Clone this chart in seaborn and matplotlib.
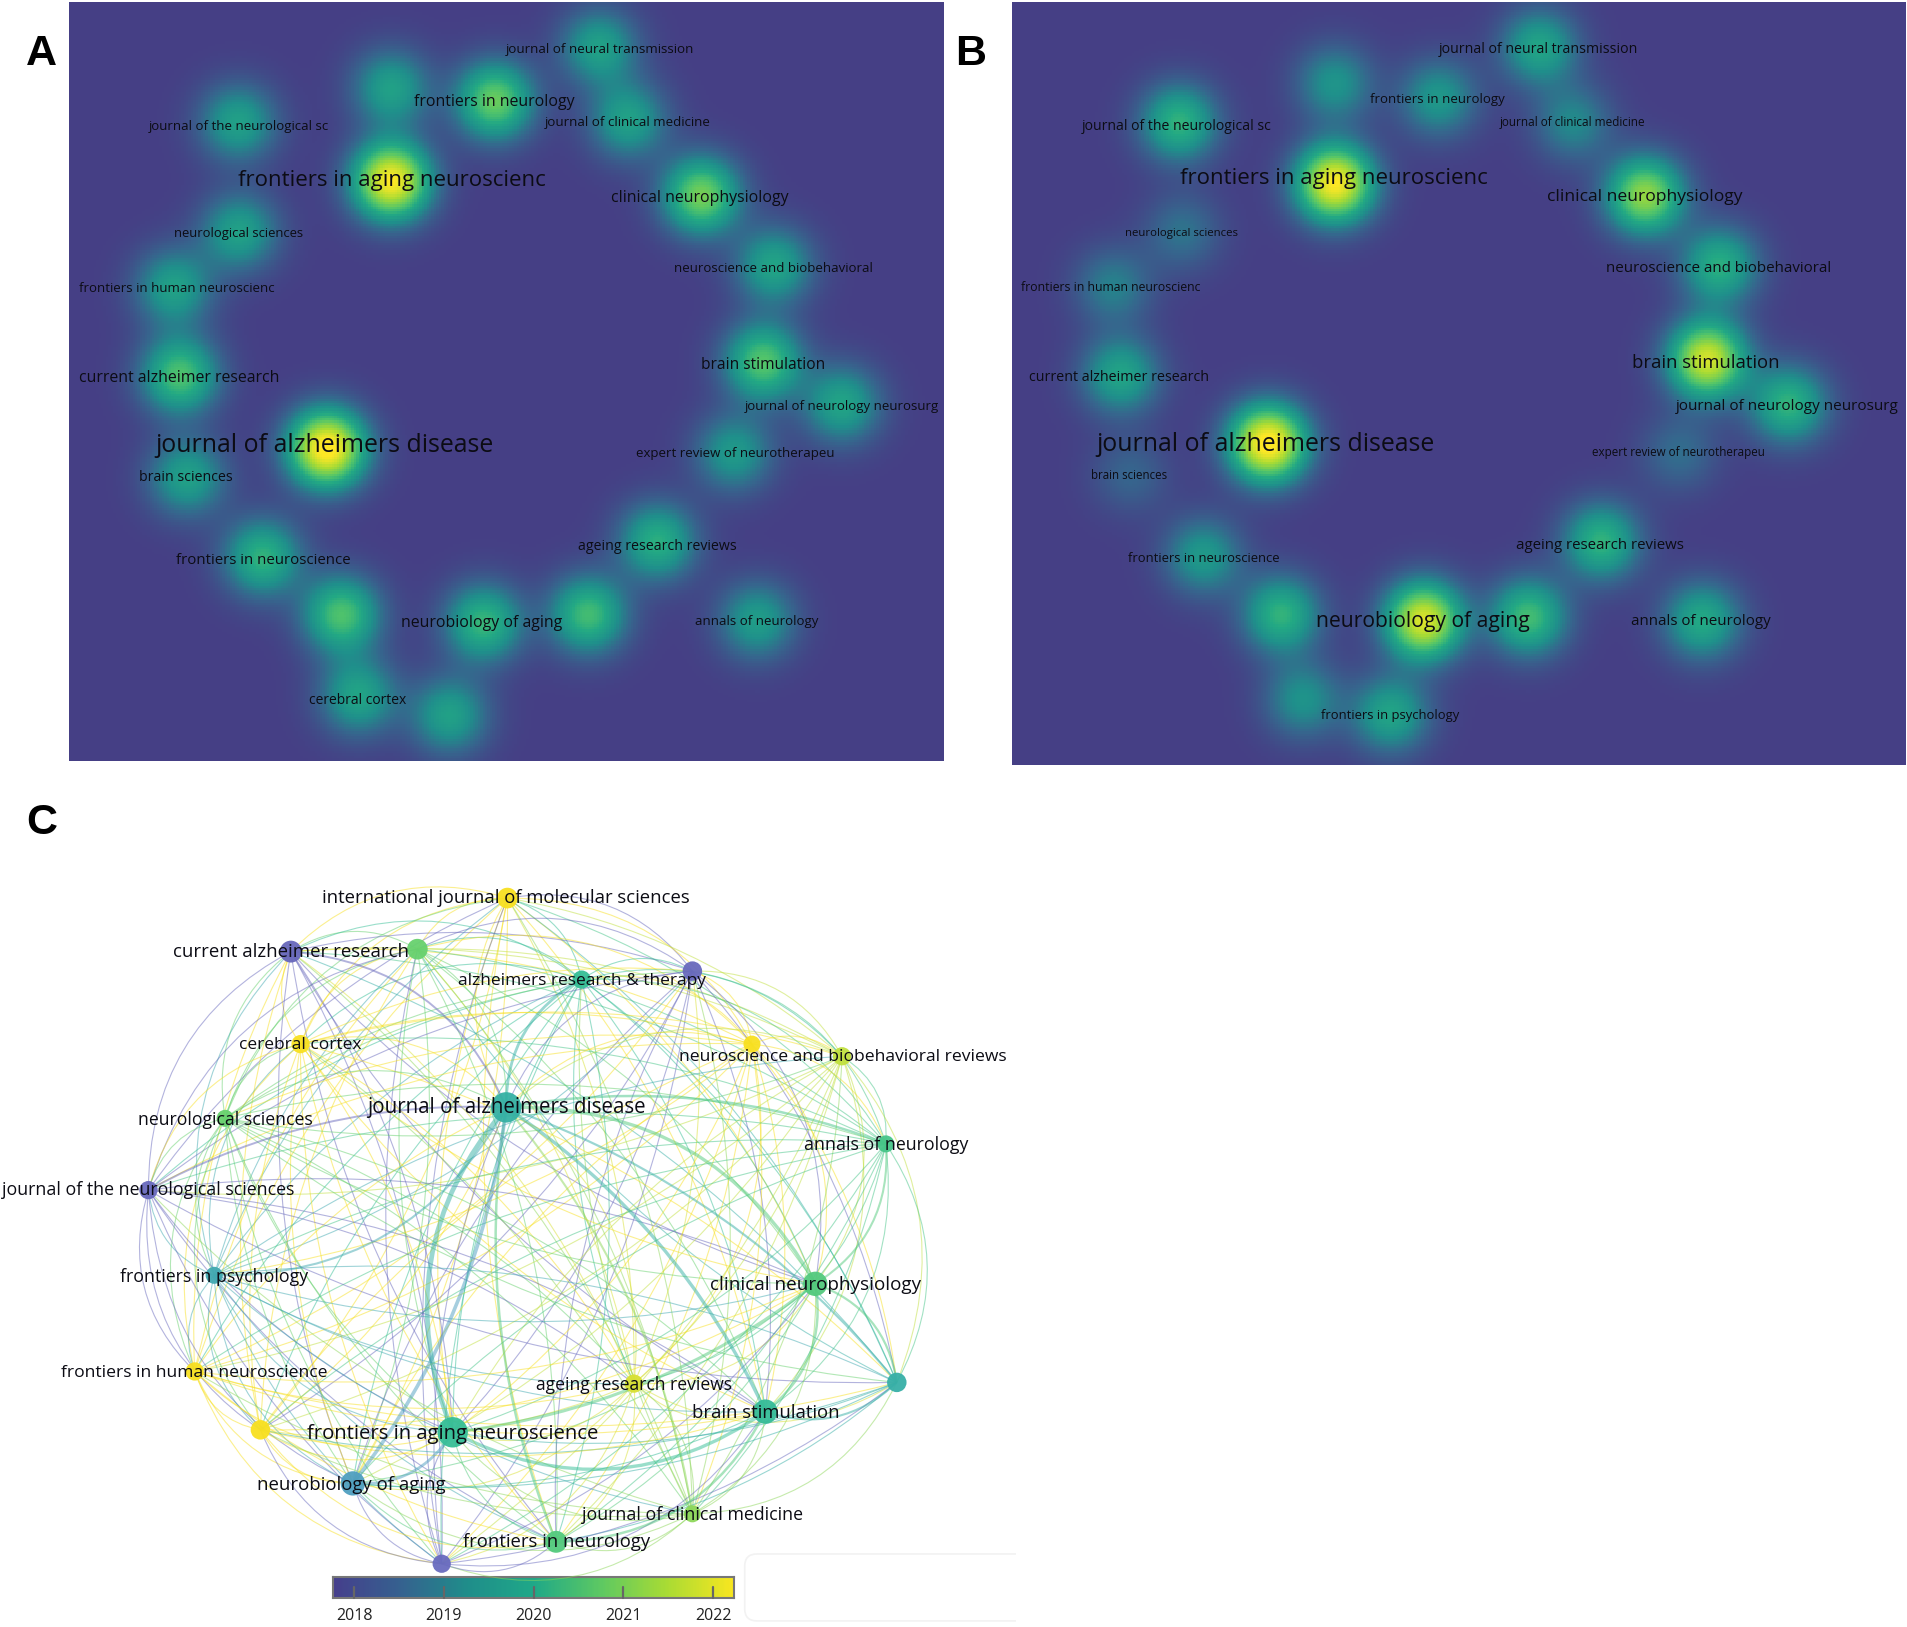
"""Journal density maps (A, B) and citation network (C), VOSviewer style."""
from itertools import combinations

import matplotlib
matplotlib.use("Agg")
import matplotlib.pyplot as plt
import numpy as np
import pandas as pd
import seaborn as sns
from matplotlib.colors import LinearSegmentedColormap, Normalize
from matplotlib.patches import FancyBboxPatch, PathPatch
from matplotlib.path import Path

# All positions are in the picture's own units, 1568 x 1337
IMG_W, IMG_H = 1568, 1337
SCALE = 1908 / IMG_W

# ── Panel A ──────────────────────────────────────────────────────────────────
A_X = [321, 268, 406, 321, 492, 516, 195, 576, 636, 196, 142, 147, 627, 692, 603, 153, 540, 215, 280, 397, 483, 622, 294, 369]
A_Y = [148, 368, 82, 72, 38, 98, 100, 160, 218, 190, 236, 308, 297, 332, 372, 392, 445, 458, 505, 512, 505, 510, 572, 588]
A_W = [1.0, 1.05, .65, .40, .40, .40, .40, .68, .42, .40, .40, .58, .60, .42, .36, .40, .48, .50, .58, .52, .55, .38, .42, .40]
A_LABELS = [
    ("frontiers in aging neuroscienc", 322, 148, 16.0),
    ("journal of alzheimers disease", 267, 366, 17.9),
    ("frontiers in neurology", 406, 84, 11.4),
    ("journal of neural transmission", 493, 41, 9.6),
    ("journal of clinical medicine", 516, 101, 9.6),
    ("journal of the neurological sc", 196, 104, 9.5),
    ("clinical neurophysiology", 575, 163, 11.4),
    ("neuroscience and biobehavioral", 636, 221, 9.5),
    ("neurological sciences", 196, 192, 9.4),
    ("frontiers in human neuroscienc", 145, 237, 9.5),
    ("current alzheimer research", 147, 311, 11.4),
    ("brain stimulation", 627, 300, 11.2),
    ("journal of neurology neurosurg", 692, 334, 9.5),
    ("expert review of neurotherapeu", 604, 373, 9.5),
    ("brain sciences", 153, 392, 10.2),
    ("ageing research reviews", 540, 449, 10.2),
    ("frontiers in neuroscience", 216, 461, 10.8),
    ("neurobiology of aging", 396, 512, 11.4),
    ("annals of neurology", 622, 511, 9.5),
    ("cerebral cortex", 294, 576, 10.0),
]

# ── Panel B ──────────────────────────────────────────────────────────────────
B_X = [1096, 1041, 1181, 1096, 1264, 1292, 968, 1351, 1412, 971, 914, 920, 1402, 1469, 1379, 928, 1315, 988, 1052, 1169, 1255, 1398, 1070, 1142]
B_Y = [150, 364, 80, 68, 38, 100, 100, 160, 218, 190, 235, 308, 295, 332, 372, 390, 445, 457, 505, 510, 507, 510, 575, 587]
B_W = [1.0, 1.05, .35, .33, .42, .28, .50, .75, .48, .20, .25, .42, .90, .50, .18, .15, .50, .36, .50, .92, .55, .45, .32, .42]
B_LABELS = [
    ("frontiers in aging neuroscienc", 1096, 147, 16.0),
    ("journal of alzheimers disease", 1040, 365, 17.9),
    ("frontiers in neurology", 1181, 82, 9.5),
    ("journal of neural transmission", 1264, 41, 10.2),
    ("journal of clinical medicine", 1292, 101, 8.5),
    ("journal of the neurological sc", 967, 104, 10.1),
    ("clinical neurophysiology", 1352, 162, 12.6),
    ("neuroscience and biobehavioral", 1412, 221, 10.9),
    ("neurological sciences", 971, 192, 8.2),
    ("frontiers in human neuroscienc", 913, 236, 8.8),
    ("current alzheimer research", 920, 310, 10.3),
    ("brain stimulation", 1402, 298, 13.3),
    ("journal of neurology neurosurg", 1469, 334, 11.0),
    ("expert review of neurotherapeu", 1379, 372, 8.4),
    ("brain sciences", 928, 391, 8.3),
    ("ageing research reviews", 1315, 448, 10.85),
    ("frontiers in neuroscience", 989, 459, 9.4),
    ("neurobiology of aging", 1169, 511, 15.2),
    ("annals of neurology", 1398, 511, 10.9),
    ("frontiers in psychology", 1142, 588, 9.4),
]

# ── Panel C ──────────────────────────────────────────────────────────────────
NODE_X = [417, 239, 343, 478, 569, 247, 618, 692, 416, 185, 728, 122, 176, 670, 160, 521, 737, 629, 214, 372, 290, 569, 457, 363]
NODE_Y = [738, 782, 780, 805, 798, 858, 858, 868, 910, 919, 940, 978, 1048, 1055, 1127, 1137, 1136, 1160, 1175, 1177, 1219, 1244, 1267, 1285]
NODE_YEAR = [2022.0, 2018.1, 2021.0, 2020.2, 2018.2, 2022.0, 2022.0, 2021.7, 2019.7, 2021.0, 2020.5, 2018.2, 2019.4, 2020.7, 2022.0, 2021.8, 2019.6, 2020.1, 2022.0, 2020.2, 2019.1, 2021.3, 2020.7, 2018.3]
NODE_DIAM = [17, 18, 17, 15, 16, 15, 14, 15, 25, 14, 14, 15, 14, 20, 15, 15, 16, 20, 16, 25, 20, 14, 18, 15]
C_LABELS = [
    ("international journal of molecular sciences", 416, 738, 13.3),
    ("current alzheimer research", 239, 782, 13.45),
    ("alzheimers research & therapy", 478, 806, 12.5),
    ("cerebral cortex", 247, 859, 12.5),
    ("neuroscience and biobehavioral reviews", 693, 869, 12.6),
    ("journal of alzheimers disease", 416, 910, 14.8),
    ("neurological sciences", 185, 920, 12.7),
    ("annals of neurology", 728, 941, 12.8),
    ("journal of the neurological sciences", 122, 978, 12.8),
    ("frontiers in psychology", 176, 1049, 12.75),
    ("clinical neurophysiology", 670, 1056, 13.6),
    ("frontiers in human neuroscience", 160, 1128, 12.6),
    ("ageing research reviews", 521, 1138, 12.65),
    ("brain stimulation", 629, 1161, 13.3),
    ("frontiers in aging neuroscience", 372, 1178, 14.6),
    ("neurobiology of aging", 289, 1220, 13.4),
    ("journal of clinical medicine", 569, 1245, 12.8),
    ("frontiers in neurology", 457, 1267, 13.3),
]
# heavier links, as node indices, the rest of the pairs are thin
STRONG_A = [8, 8, 8, 8, 8, 8, 8, 19, 19, 19, 13, 13, 17, 1, 11, 8, 8, 8, 17, 10]
STRONG_B = [19, 20, 13, 17, 22, 3, 10, 17, 13, 20, 17, 16, 22, 8, 8, 16, 21, 12, 16, 13]
STRONG_W = [3.4, 2.6, 2.4, 2.4, 1.8, 2.0, 1.8, 2.4, 2.2, 2.0, 1.8, 1.6, 1.8, 1.4, 1.4, 1.6, 1.5, 1.5, 1.5, 1.5]
YEARS = [2018, 2019, 2020, 2021, 2022]

# ── Colours ──────────────────────────────────────────────────────────────────
DENSITY_CMAP = LinearSegmentedColormap.from_list("density", [
    (0.0, "#453f85"), (0.15, "#36658d"), (0.3, "#1f8f8b"), (0.45, "#22a884"),
    (0.6, "#53c569"), (0.8, "#a8db34"), (1.0, "#fde725"),
])
YEAR_CMAP = LinearSegmentedColormap.from_list("years", [
    "#453f8c", "#35618f", "#1f8d8a", "#1fa888", "#5cc863", "#a8db34", "#f7e620",
])
# links and nodes are drawn paler than the colour bar
LINK_CMAP = LinearSegmentedColormap.from_list("links", [
    (0.0, "#6460b5"), (0.13, "#6a6cc0"), (0.3, "#4fa0c0"), (0.42, "#35b0a5"),
    (0.55, "#35bf95"), (0.72, "#64d070"), (0.88, "#bfe040"), (0.94, "#f8e020"), (1.0, "#f8e020"),
])
YEAR_NORM = Normalize(2017.77, 2022.23)


def axes_at(fig, x0, y0, x1, y1):
    # picture units to figure fractions, y counted from the top
    return fig.add_axes([x0 / IMG_W, 1 - y1 / IMG_H, (x1 - x0) / IMG_W, (y1 - y0) / IMG_H])


def draw_density(fig, box, xs, ys, weights, sigma=22, step=2):
    x0, y0, x1, y1 = box
    gx, gy = np.meshgrid(np.arange(x0, x1, step), np.arange(y0, y1, step))
    grid = np.zeros_like(gx, dtype=float)
    for x, y, w in zip(xs, ys, weights):
        grid += w * np.exp(-((gx - x) ** 2 + (gy - y) ** 2) / (2 * sigma ** 2))
    ax = axes_at(fig, *box)
    sns.heatmap(grid, ax=ax, cmap=DENSITY_CMAP, vmin=0, vmax=1, cbar=False,
                xticklabels=False, yticklabels=False, rasterized=True)
    return ax


def draw_labels(ax, labels):
    for text, x, y, size in labels:
        ax.text(x, y, text, fontsize=size, ha="center", va="center", color="#0c0c14", zorder=5)


def edge_path(p, q, flip, center=(417, 1000)):
    # arc that bulges away from the middle of the network, long chords stay flatter
    p, q = np.array(p, float), np.array(q, float)
    mid = (p + q) / 2
    d = q - p
    n = np.array([-d[1], d[0]])
    to_mid = mid - np.array(center)
    if np.dot(n, to_mid) < 0:
        n = -n
    rad = 0.3 if np.hypot(*d) < 300 else 0.14
    if np.hypot(*to_mid) < 130 and flip:
        n = -n
    return Path([p, mid + rad * n, q], [Path.MOVETO, Path.CURVE3, Path.CURVE3])


def draw_network(ax):
    strong = {}
    for a, b, w in zip(STRONG_A, STRONG_B, STRONG_W):
        strong[(min(a, b), max(a, b))] = w
    pairs = sorted(combinations(range(len(NODE_X)), 2), key=lambda e: strong.get(e, 0))
    for a, b in pairs:
        w = strong.get((a, b), 0.8)
        # a link takes the colour of its smaller end
        end = a if NODE_DIAM[a] <= NODE_DIAM[b] else b
        if w > 1:
            end = a if abs(NODE_YEAR[a] - 2020) > abs(NODE_YEAR[b] - 2020) else b
        path = edge_path((NODE_X[a], NODE_Y[a]), (NODE_X[b], NODE_Y[b]), (a + b) % 2 == 0)
        ax.add_patch(PathPatch(path, fc="none", ec=LINK_CMAP(YEAR_NORM(NODE_YEAR[end])),
                               lw=w, alpha=0.5, zorder=2))

    df = pd.DataFrame({"x": NODE_X, "y": NODE_Y, "year": NODE_YEAR,
                       "area": np.array(NODE_DIAM) ** 2})
    k = (SCALE * 0.72) ** 2
    sns.scatterplot(data=df, x="x", y="y", hue="year", palette=LINK_CMAP, hue_norm=YEAR_NORM,
                    size="area", sizes=(k * 100, k * 900), size_norm=(100, 900),
                    linewidth=0, alpha=0.95, legend=False, ax=ax, zorder=3)


def draw_year_bar(fig, overlay):
    box = (274, 1296, 603, 1313)
    ax = axes_at(fig, *box)
    values = np.linspace(YEAR_NORM.vmin, YEAR_NORM.vmax, 330).reshape(1, -1)
    sns.heatmap(values, ax=ax, cmap=YEAR_CMAP, norm=YEAR_NORM, cbar=False,
                xticklabels=False, yticklabels=False, rasterized=True)
    span = YEAR_NORM.vmax - YEAR_NORM.vmin
    for year in YEARS:
        xpos = box[0] + (year - YEAR_NORM.vmin) / span * (box[2] - box[0])
        overlay.plot([xpos, xpos], [1304, 1313], color="#666666", lw=1.6, zorder=6)
        overlay.text(xpos, 1328, str(year), fontsize=11.5, ha="center", va="center", color="#222222")
    for spine in ax.spines.values():
        spine.set_visible(True)
        spine.set_color("#777777")
        spine.set_linewidth(1.5)


def main():
    sns.set_theme(style="white")
    plt.rcParams["font.family"] = ["Open Sans", "DejaVu Sans"]

    fig = plt.figure(figsize=(19.08, 16.27), dpi=100, facecolor="white")

    draw_density(fig, (57, 2, 776, 625), A_X, A_Y, A_W)
    draw_density(fig, (832, 2, 1566, 629), B_X, B_Y, B_W)

    overlay = fig.add_axes([0, 0, 1, 1], facecolor="none", zorder=10)
    draw_network(overlay)
    draw_labels(overlay, A_LABELS)
    draw_labels(overlay, B_LABELS)
    draw_labels(overlay, C_LABELS)

    draw_year_bar(fig, overlay)

    # faint empty box next to the colour bar
    overlay.add_patch(FancyBboxPatch((612, 1277), 260, 55, boxstyle="round,pad=0,rounding_size=10",
                                     fc="white", ec="#f2f2f2", lw=1.2, zorder=1))
    overlay.add_patch(plt.Rectangle((835, 1270), 60, 67, fc="white", ec="none", zorder=1.5))

    for letter, x, y in [("A", 34, 44), ("B", 798, 44), ("C", 34, 676)]:
        overlay.text(x, y, letter, fontsize=31, fontweight="bold", family="Liberation Sans",
                     ha="center", va="center", color="black")

    overlay.set_xlim(0, IMG_W)
    overlay.set_ylim(IMG_H, 0)
    overlay.axis("off")

    fig.savefig("out.png", dpi=100)


if __name__ == "__main__":
    main()
